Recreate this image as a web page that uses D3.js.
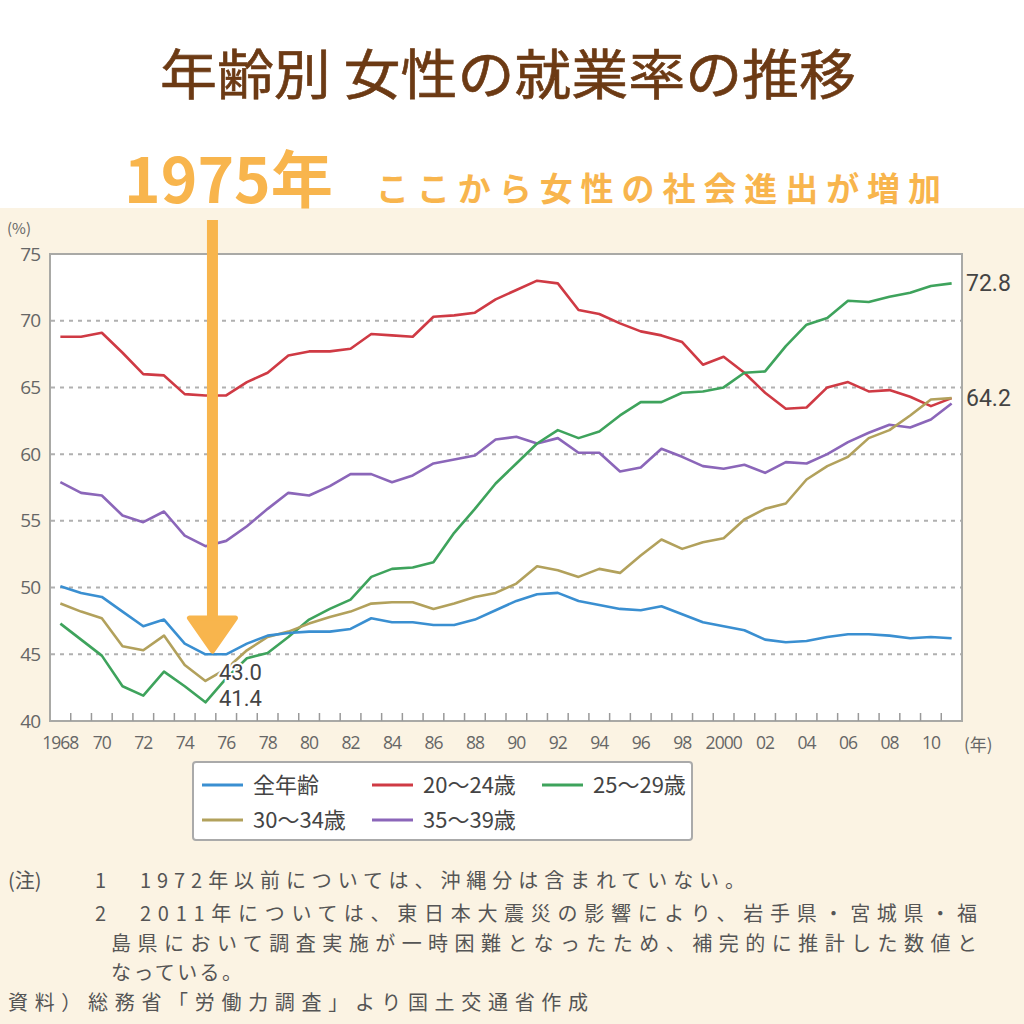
<!DOCTYPE html>
<html><head><meta charset="utf-8">
<script src="https://cdn.jsdelivr.net/npm/d3@7"></script>
<style>
body{margin:0;background:#fff}
svg{display:block}
text{font-family:"Noto Sans CJK JP","Noto Sans",sans-serif}
</style>
</head><body>
<svg id="c" width="1024" height="1024"></svg>
<script>
// ---- data ----
const years = [1968,1969,1970,1971,1972,1973,1974,1975,1976,1977,1978,1979,1980,1981,1982,1983,1984,1985,1986,1987,1988,1989,1990,1991,1992,1993,1994,1995,1996,1997,1998,1999,2000,2001,2002,2003,2004,2005,2006,2007,2008,2009,2010,2011];
const xTickLabels = ["1968","70","72","74","76","78","80","82","84","86","88","90","92","94","96","98","2000","02","04","06","08","10"];
const yTicks = [40,45,50,55,60,65,70,75];
const seriesNames = ["全年齢","20～24歳","25～29歳","30～34歳","35～39歳"];
const allAges = [50.1,49.6,49.3,48.2,47.1,47.6,45.8,45.0,45.0,45.8, 46.4,46.6,46.7,46.7,46.9,47.7,47.4,47.4,47.2,47.2, 47.6,48.3,49.0,49.5,49.6,49.0,48.7,48.4,48.3,48.6, 48.0,47.4,47.1,46.8,46.1,45.9,46.0,46.3,46.5,46.5, 46.4,46.2,46.3,46.2];
const age20_24 = [68.8,68.8,69.1,67.6,66.0,65.9,64.5,64.4,64.4,65.4, 66.1,67.4,67.7,67.7,67.9,69.0,68.9,68.8,70.3,70.4, 70.6,71.6,72.3,73.0,72.8,70.8,70.5,69.8,69.2,68.9, 68.4,66.7,67.3,66.1,64.6,63.4,63.5,65.0,65.4,64.7, 64.8,64.3,63.6,64.2];
const age25_29 = [47.3,46.1,44.9,42.6,41.9,43.7,42.6,41.4,43.2,44.7, 45.1,46.3,47.6,48.4,49.1,50.8,51.4,51.5,51.9,54.1, 55.9,57.8,59.3,60.8,61.8,61.2,61.7,62.9,63.9,63.9, 64.6,64.7,65.0,66.1,66.2,68.1,69.7,70.2,71.5,71.4, 71.8,72.1,72.6,72.8];
const age30_34 = [48.8,48.2,47.7,45.6,45.3,46.4,44.2,43.0,43.9,45.3, 46.3,46.7,47.3,47.8,48.2,48.8,48.9,48.9,48.4,48.8, 49.3,49.6,50.3,51.6,51.3,50.8,51.4,51.1,52.4,53.6, 52.9,53.4,53.7,55.1,55.9,56.3,58.1,59.1,59.8,61.2, 61.8,62.9,64.1,64.2];
const age35_39 = [57.9,57.1,56.9,55.4,54.9,55.7,53.9,53.1,53.5,54.6, 55.9,57.1,56.9,57.6,58.5,58.5,57.9,58.4,59.3,59.6, 59.9,61.1,61.3,60.8,61.2,60.1,60.1,58.7,59.0,60.4, 59.8,59.1,58.9,59.2,58.6,59.4,59.3,60.0,60.9,61.6, 62.2,62.0,62.6,63.8];
const seriesColors = ["#3a8fd1","#cf3a44","#3ea35c","#b2a15c","#8b66b9"];
const valueLabels = ["72.8","64.2","43.0","41.4"];

const seriesData = [allAges, age20_24, age25_29, age30_34, age35_39];

const svg = d3.select("#c");
const orange = "#f8b54d";

// backgrounds
svg.append("rect").attr("x",0).attr("y",0).attr("width",1024).attr("height",1024).attr("fill","#ffffff");
svg.append("rect").attr("x",0).attr("y",208).attr("width",1024).attr("height",816).attr("fill","#fbf3e3");

// title
svg.append("text").attr("x",508).attr("y",95).attr("text-anchor","middle")
  .attr("font-size",54).attr("font-weight",400).attr("fill","#6c3a14")
  .attr("stroke","#6c3a14").attr("stroke-width",0.6)
  .attr("textLength",696).attr("lengthAdjust","spacingAndGlyphs")
  .text("年齢別 女性の就業率の推移");

svg.append("text").attr("x",124).attr("y",203)
  .attr("font-size",62).attr("font-weight",700).attr("fill",orange)
  .attr("textLength",209).attr("lengthAdjust","spacingAndGlyphs")
  .text("1975年");
svg.append("text").attr("x",376).attr("y",201)
  .attr("font-size",33).attr("font-weight",700).attr("fill",orange)
  .attr("textLength",565).attr("lengthAdjust","spacing")
  .text("ここから女性の社会進出が増加");

// scales
const L=50, R=962, T=254, B=721;
const x = d3.scaleBand().domain(years).range([L,R]);
const bw = x.bandwidth();
const cx = yr => x(yr) + bw/2;
const y = d3.scaleLinear().domain([40,75]).range([B,T]);

// plot area
svg.append("rect").attr("x",L).attr("y",T).attr("width",R-L).attr("height",B-T)
  .attr("fill","#fff").attr("stroke","#a9a9a6").attr("stroke-width",2);

// grid
svg.append("g").selectAll("line").data(yTicks.filter(d=>d>40 && d<75)).join("line")
  .attr("x1",L+1).attr("x2",R-1).attr("y1",d=>y(d)).attr("y2",d=>y(d))
  .attr("stroke","#b0b0b0").attr("stroke-width",2).attr("stroke-dasharray","4,5");

// y axis labels
const yAxis = d3.axisLeft(y).tickValues(yTicks).tickSize(0).tickPadding(10);
const gy = svg.append("g").attr("transform",`translate(${L},0)`).call(yAxis);
gy.select(".domain").remove();
gy.selectAll("text").attr("font-size",19).attr("fill","#666").style("font-family","'Open Sans','Noto Sans',sans-serif").attr("letter-spacing","-1");
svg.append("text").attr("x",7).attr("y",234).attr("font-size",15).attr("fill","#666").text("(%)");

// x ticks at band boundaries
svg.append("g").selectAll("line").data(years.slice(1)).join("line")
  .attr("x1",d=>x(d)).attr("x2",d=>x(d)).attr("y1",B).attr("y2",B-8)
  .attr("stroke","#999").attr("stroke-width",1.5);

// x axis labels
const labelYears = years.filter((d,i)=>i%2===0);
const xAxis = d3.axisBottom(x).tickValues(labelYears).tickSize(0).tickPadding(16)
  .tickFormat(d=>xTickLabels[labelYears.indexOf(d)]);
const gx = svg.append("g").attr("transform",`translate(0,${B})`).call(xAxis);
gx.select(".domain").remove();
gx.selectAll("text").attr("font-size",17.5).attr("fill","#666").style("font-family","'Open Sans','Noto Sans',sans-serif").attr("letter-spacing","-1");
svg.append("text").attr("x",964).attr("y",751).attr("font-size",17).attr("fill","#666").text("(年)");

// lines
const line = d3.line().x((d,i)=>cx(years[i])).y(d=>y(d));
const drawOrder = [1,4,2,3,0];
drawOrder.forEach(k=>{
  svg.append("path").datum(seriesData[k]).attr("d",line)
    .attr("fill","none").attr("stroke",seriesColors[k]).attr("stroke-width",2.6)
    .attr("stroke-linejoin","round");
});

// value labels
const numFont = "Roboto, 'Liberation Sans', sans-serif";
svg.append("text").attr("x",966).attr("y",y(72.8)+8).attr("font-size",23).attr("fill","#444").style("font-family",numFont).text(valueLabels[0]);
svg.append("text").attr("x",966).attr("y",y(64.2)+8).attr("font-size",23).attr("fill","#444").style("font-family",numFont).text(valueLabels[1]);
[[valueLabels[2],680],[valueLabels[3],706]].forEach(([lab,by])=>{
  svg.append("text").attr("x",219).attr("y",by).attr("font-size",22).attr("fill","#444")
    .style("font-family",numFont)
    .attr("stroke","#fff").attr("stroke-width",4).attr("paint-order","stroke").text(lab);
});

// orange arrow
const ax = cx(1975)+7;
svg.append("rect").attr("x",ax-5.5).attr("y",220).attr("width",11).attr("height",400).attr("fill",orange);
svg.append("path")
  .attr("d",`M${ax-23},${618} L${ax+23},${618} L${ax},${651} Z`)
  .attr("fill",orange).attr("stroke",orange).attr("stroke-width",5).attr("stroke-linejoin","round");

// legend
svg.append("rect").attr("x",193).attr("y",762).attr("width",499).attr("height",78).attr("rx",3)
  .attr("fill","#fff").attr("stroke","#aaa").attr("stroke-width",2);
const legPos = [[202,785],[372,785],[542,785],[202,820],[372,820]];
seriesNames.forEach((n,k)=>{
  const [lx,ly]=legPos[k];
  svg.append("line").attr("x1",lx).attr("x2",lx+41).attr("y1",ly).attr("y2",ly)
    .attr("stroke",seriesColors[k]).attr("stroke-width",3);
  svg.append("text").attr("x",lx+51).attr("y",ly+8).attr("font-size",22).attr("fill","#444").text(n);
});

// notes
const noteColor = "#555";
const note = (tx,xx,yy,len)=>{
  const t = svg.append("text").attr("x",xx).attr("y",yy).attr("font-size",20).attr("fill",noteColor).text(tx);
  if(len) t.attr("textLength",len).attr("lengthAdjust","spacing");
};
note("(注)",8,888);
note("1",95,888);
note("1972年以前については、沖縄分は含まれていない。",140,888,605);
note("2",95,921);
note("2011年については、東日本大震災の影響により、岩手県・宮城県・福",140,921,837);
note("島県において調査実施が一時困難となったため、補完的に推計した数値と",111,951,866);
note("なっている。",111,980,131);
note("資料）総務省「労働力調査」より国土交通省作成",8,1010,580);
</script>
</body></html>
